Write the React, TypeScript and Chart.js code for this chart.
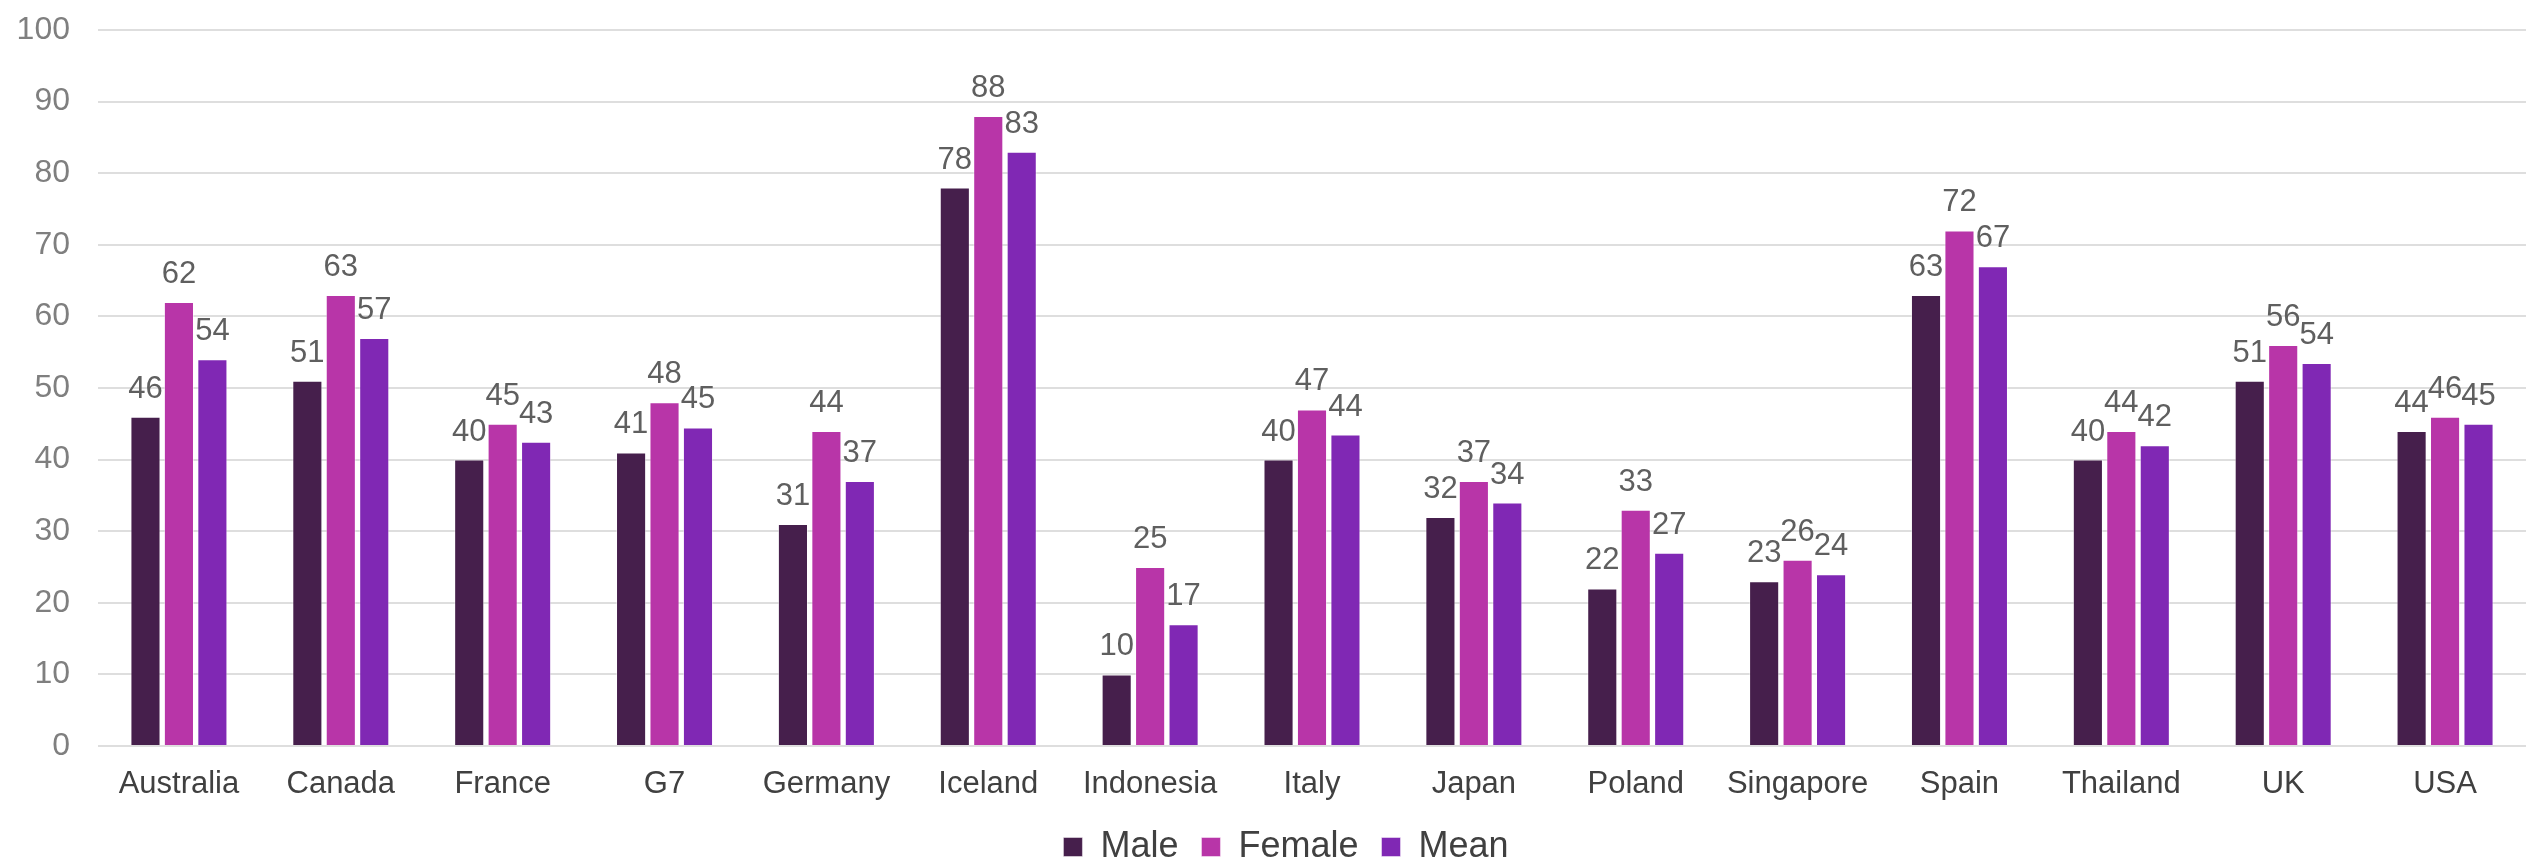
import { useEffect, useRef } from 'react';
import { Chart, registerables } from 'chart.js';

Chart.register(...registerables);

// Countries on the category axis
const countries = [
  'Australia', 'Canada', 'France', 'G7', 'Germany', 'Iceland', 'Indonesia',
  'Italy', 'Japan', 'Poland', 'Singapore', 'Spain', 'Thailand', 'UK', 'USA',
];

// Series values (percent)
const male = [46, 51, 40, 41, 31, 78, 10, 40, 32, 22, 23, 63, 40, 51, 44];
const female = [62, 63, 45, 48, 44, 88, 25, 47, 37, 33, 26, 72, 44, 56, 46];
const mean = [54, 57, 42.5, 44.5, 37, 83, 17, 43.5, 34, 27, 24, 67, 42, 53.5, 45];

// Value axis range
const yMin = 0;
const yMax = 100;
const yStep = 10;

const FONT = '"Liberation Sans", Arial, Helvetica, sans-serif';

// Writes each bar's value (rounded to a whole number) just above the bar
const valueLabels = {
  id: 'valueLabels',
  afterDatasetsDraw(chart: any) {
    const { ctx } = chart;
    ctx.save();
    ctx.font = `31px ${FONT}`;
    ctx.fillStyle = '#5f5f5f';
    ctx.textAlign = 'center';
    ctx.textBaseline = 'alphabetic';
    chart.data.datasets.forEach((ds: any, i: number) => {
      const meta = chart.getDatasetMeta(i);
      meta.data.forEach((bar: any, j: number) => {
        const v = ds.data[j] as number;
        ctx.fillText(String(Math.round(v)), bar.x, bar.y - 19);
      });
    });
    ctx.restore();
  },
};

// Nudges the legend row a little to the right of the canvas centre
const legendOffset = {
  id: 'legendOffset',
  afterLayout(chart: any) {
    if (chart.legend) {
      chart.legend.left += 23;
      chart.legend.right += 23;
    }
  },
};

export default function App() {
  const canvasRef = useRef<HTMLCanvasElement | null>(null);

  useEffect(() => {
    document.body.style.margin = '0';
    const canvas = canvasRef.current;
    if (!canvas) return;

    const barStyle = {
      borderWidth: 1,
      borderColor: 'rgba(255,255,255,0.45)',
      categoryPercentage: 0.62,
      barPercentage: 0.9,
    };

    const chart = new Chart(canvas, {
      type: 'bar',
      data: {
        labels: countries,
        datasets: [
          { label: 'Male', data: male, backgroundColor: '#461F4C', ...barStyle },
          { label: 'Female', data: female, backgroundColor: '#B835A8', ...barStyle },
          { label: 'Mean', data: mean, backgroundColor: '#8028B4', ...barStyle },
        ],
      },
      options: {
        animation: false,
        responsive: false,
        devicePixelRatio: 1,
        layout: { padding: { top: 30, left: 0, right: 0, bottom: -15 } },
        plugins: {
          tooltip: { enabled: false },
          legend: {
            position: 'bottom',
            labels: {
              boxWidth: 19,
              boxHeight: 19,
              padding: 23,
              color: '#404040',
              font: { family: FONT, size: 36 },
            },
          },
        },
        scales: {
          x: {
            grid: { display: false, drawTicks: false },
            border: { display: false },
            ticks: {
              color: '#404040',
              padding: 20,
              font: { family: FONT, size: 31 },
              maxRotation: 0,
              autoSkip: false,
            },
            afterFit(scale: any) {
              scale.height = 60;
            },
          },
          y: {
            min: yMin,
            max: yMax,
            grid: { color: '#dedede', lineWidth: 2, drawTicks: false },
            border: { display: false },
            ticks: {
              stepSize: yStep,
              color: '#7f7f7f',
              padding: 28,
              font: { family: FONT, size: 32 },
            },
            afterFit(scale: any) {
              scale.width = 98;
              scale.paddingTop = 0;
              scale.paddingBottom = 0;
            },
          },
        },
      },
      plugins: [valueLabels, legendOffset],
    });

    return () => chart.destroy();
  }, []);

  return (
    <div style={{ position: 'fixed', left: 0, top: 0, width: 2526, height: 860, background: '#ffffff' }}>
      <canvas ref={canvasRef} width={2526} height={860} style={{ display: 'block' }} />
    </div>
  );
}
